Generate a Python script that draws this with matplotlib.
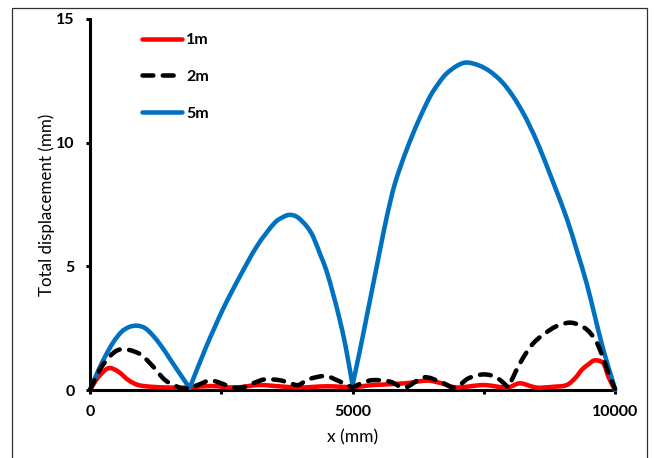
import matplotlib
matplotlib.use("Agg")
import matplotlib.pyplot as plt
from matplotlib.patches import Rectangle, PathPatch
from matplotlib.path import Path
from matplotlib.lines import Line2D
from matplotlib.ticker import FixedLocator

# Total displacement along the span for three spacings
x_1m = [0, 150, 349, 540, 730, 921, 1175, 1500, 1810, 2317, 2762, 3206, 3600, 4000,
        4500, 5000, 5397, 6000, 6413, 6700, 6984, 7492, 7937, 8190, 8500, 8825,
        9079, 9250, 9365, 9500, 9619, 9778, 9873, 10000]
y_1m = [0, 0.5, 0.88, 0.74, 0.4, 0.2, 0.13, 0.1, 0.1, 0.16, 0.1, 0.2, 0.15, 0.1,
        0.15, 0.12, 0.2, 0.27, 0.38, 0.27, 0.1, 0.2, 0.1, 0.27, 0.1, 0.13,
        0.2, 0.5, 0.81, 1.05, 1.2, 1.08, 0.54, 0]

x_2m = [0, 222, 540, 920, 1175, 1430, 1680, 1810, 2050, 2317, 2700, 2900, 3140, 3333,
        3600, 3778, 3968, 4159, 4476, 4667, 4850, 5000, 5200, 5397, 5714, 6000,
        6349, 6667, 6952, 7206, 7492, 7746, 7968, 8190, 8444, 8762, 8950, 9175,
        9429, 9619, 9746, 9873, 10000]
y_2m = [0, 0.94, 1.62, 1.49, 1.01, 0.40, 0.12, 0.05, 0.2, 0.38, 0.12, 0.1, 0.3, 0.43,
        0.4, 0.3, 0.2, 0.43, 0.57, 0.43, 0.25, 0.1, 0.3, 0.4, 0.34, 0.1,
        0.51, 0.34, 0.1, 0.47, 0.63, 0.5, 0.1, 1.08, 1.89, 2.43, 2.63, 2.72,
        2.5, 2.05, 1.45, 0.7, 0.05]
cusps_2m = [5000, 7968]

x_5m = [0, 150, 300, 450, 600, 750, 900, 1050, 1200, 1350, 1500, 1650, 1800, 1900,
        2200, 2540, 2857, 3175, 3492, 3650, 3797, 3950, 4127, 4250, 4381, 4500,
        4635, 4750, 4870, 5000,
        5143, 5270, 5397, 5524, 5651, 5810, 6032, 6250, 6476, 6650, 6794, 7000,
        7175, 7400, 7619, 7850, 8063, 8250, 8381, 8550, 8825, 9079, 9270, 9460,
        9619, 9778, 9968, 10000]
y_5m = [0, 0.75, 1.4, 1.95, 2.35, 2.55, 2.6, 2.5, 2.2, 1.8, 1.33, 0.85, 0.38, 0.08,
        1.68, 3.3, 4.6, 5.8, 6.7, 6.96, 7.08, 6.99, 6.62, 6.2, 5.5, 4.85,
        3.85, 2.9, 1.75, 0.2,
        1.62, 2.96, 4.31, 5.66, 6.98, 8.36, 9.72, 10.85, 11.86, 12.43, 12.8, 13.12,
        13.24, 13.13, 12.88, 12.45, 11.86, 11.2, 10.65, 9.86, 8.38, 6.95, 5.66, 4.31,
        2.96, 1.62, 0.27, 0.0]
cusps_5m = [1900, 5000]

labels = ["1m", "2m", "5m"]
x_ticks = [0, 5000, 10000]
x_minor = [2500, 7500]
y_ticks = [0, 5, 10, 15]


def smooth_path(xs, ys, cusps=()):
    """Cubic Bezier path through the points (Catmull-Rom handles),
    keeping a sharp corner at any x listed in cusps."""
    n = len(xs)
    pts = list(zip(xs, ys))
    sharp = {i for i, xv in enumerate(xs) if xv in cusps}
    verts = [pts[0]]
    codes = [Path.MOVETO]
    for i in range(n - 1):
        p1, p2 = pts[i], pts[i + 1]
        p0 = pts[i - 1] if (i > 0 and i not in sharp) else p1
        p3 = pts[i + 2] if (i + 2 < n and (i + 1) not in sharp) else p2
        c1 = (p1[0] + (p2[0] - p0[0]) / 6, p1[1] + (p2[1] - p0[1]) / 6)
        c2 = (p2[0] - (p3[0] - p1[0]) / 6, p2[1] - (p3[1] - p1[1]) / 6)
        verts += [c1, c2, p2]
        codes += [Path.CURVE4] * 3
    return Path(verts, codes)


plt.rcParams["font.family"] = ["Lato", "DejaVu Sans"]

fig = plt.figure(figsize=(6.54, 4.58), dpi=100)
ax = fig.add_axes([90 / 654, 68 / 458, 525 / 654, 371 / 458])

lw = 3.25
dash = (0, (2.4, 2.1))
styles = {
    "1m": dict(color="#FF0000", linestyle="-"),
    "2m": dict(color="black", linestyle=dash),
    "5m": dict(color="#0070C0", linestyle="-"),
}
series = [("1m", x_1m, y_1m, (), 3), ("5m", x_5m, y_5m, cusps_5m, 4),
          ("2m", x_2m, y_2m, cusps_2m, 5)]
for name, xs, ys, cps, z in series:
    patch = PathPatch(smooth_path(xs, ys, cps), fill=False, lw=lw,
                      edgecolor=styles[name]["color"],
                      linestyle=styles[name]["linestyle"],
                      capstyle="round", joinstyle="round",
                      clip_on=False, zorder=z)
    ax.add_patch(patch)

ax.set_xlim(0, 10000)
ax.set_ylim(0, 15)
ax.xaxis.set_major_locator(FixedLocator(x_ticks))
ax.xaxis.set_minor_locator(FixedLocator(x_minor))
ax.yaxis.set_major_locator(FixedLocator(y_ticks))
ax.set_xticklabels([str(v) for v in x_ticks])
ax.set_yticklabels([str(v) for v in y_ticks])

for s in ["top", "right"]:
    ax.spines[s].set_visible(False)
for s in ["left", "bottom"]:
    ax.spines[s].set_linewidth(2.2)
    ax.spines[s].set_zorder(2)

ax.tick_params(axis="both", which="both", direction="out", length=3, width=2.2,
               labelsize=11.5)
ax.tick_params(axis="x", which="major", pad=8)
ax.tick_params(axis="y", which="major", pad=8)
for t in ax.get_xticklabels() + ax.get_yticklabels():
    t.set_fontweight("bold")

ax.set_xlabel("x (mm)", fontsize=12.5, labelpad=7)
ax.set_ylabel("Total displacement (mm)", fontsize=12.2, labelpad=1)

handles = [Line2D([], [], lw=lw, color=styles[l]["color"],
                  linestyle=styles[l]["linestyle"], dash_capstyle="round",
                  solid_capstyle="round") for l in labels]
ax.legend(handles, labels, loc="upper left",
          bbox_to_anchor=((142 - 90) / 525, (390 - 33) / 371),
          frameon=False, borderpad=0, borderaxespad=0, handlelength=2.5,
          handletextpad=0.25, labelspacing=1.42,
          prop={"weight": "bold", "size": 11.5})

fig.patches.append(Rectangle((12 / 654, -0.05), (647 - 12) / 654, 1.05 - 8 / 458,
                             transform=fig.transFigure, fill=False,
                             edgecolor="#303030", lw=0.9))

fig.savefig("out.png", dpi=100)
